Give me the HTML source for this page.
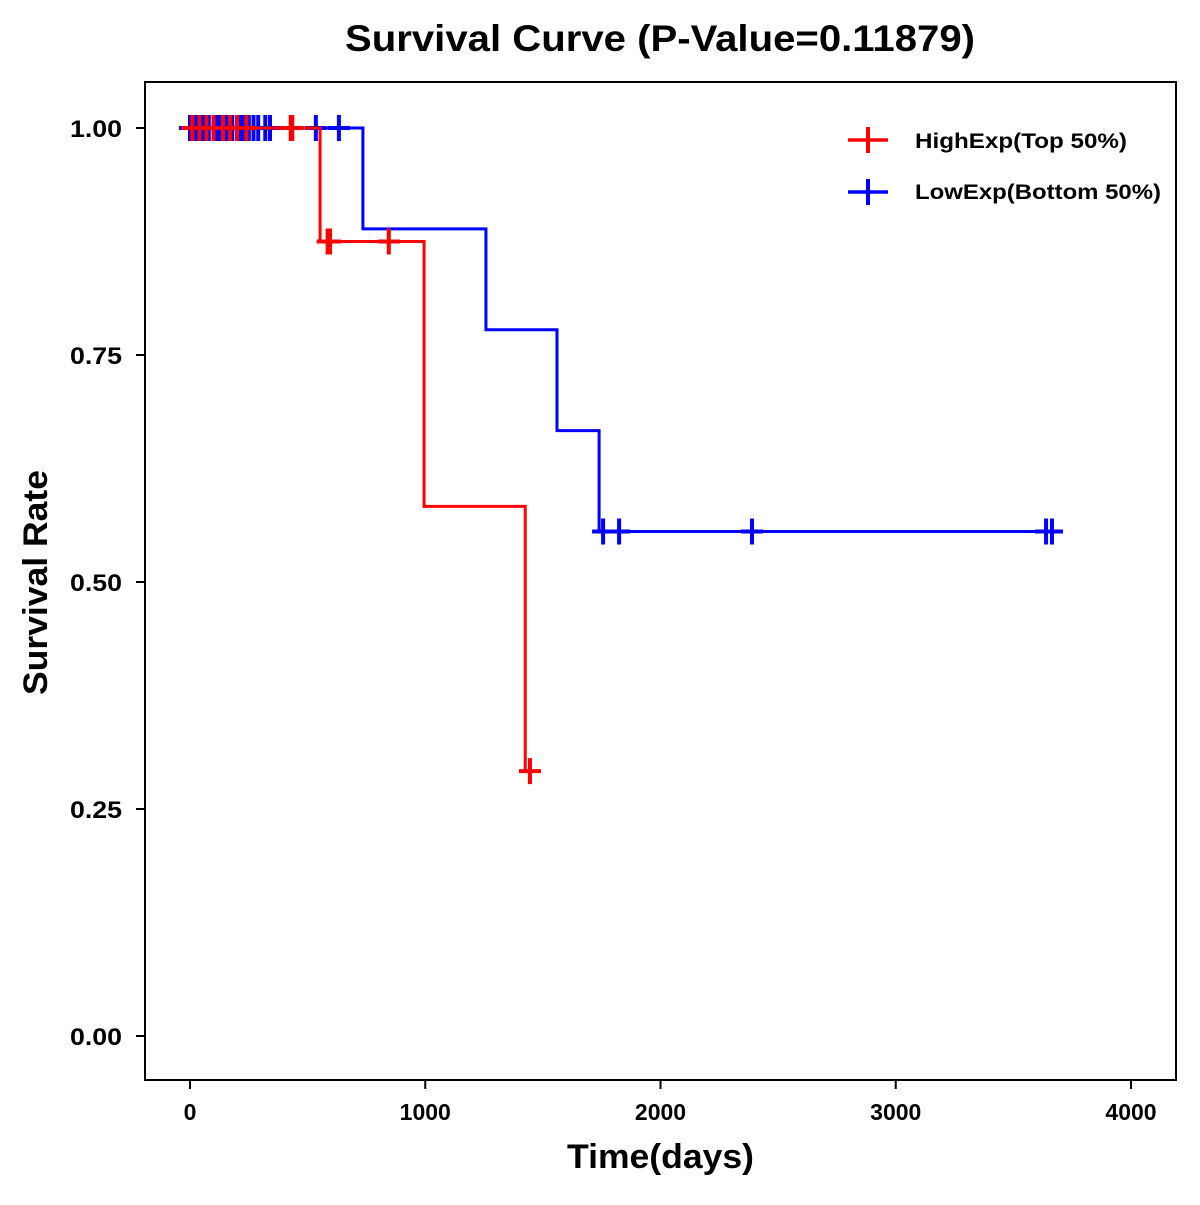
<!DOCTYPE html>
<html><head><meta charset="utf-8"><style>
html,body{margin:0;padding:0;background:#fff;}
svg text{font-family:"Liberation Sans",Arial,sans-serif;font-weight:bold;fill:#000;}
</style></head><body>
<svg id="chart" width="1200" height="1200" viewBox="0 0 1200 1200" xmlns="http://www.w3.org/2000/svg">
<rect width="1200" height="1200" fill="#fff"/>
<text x="345" y="51" font-size="37" textLength="630" lengthAdjust="spacingAndGlyphs">Survival Curve (P-Value=0.11879)</text>
<rect x="145" y="82" width="1031" height="998" fill="none" stroke="#000" stroke-width="2"/>
<g id="axes"></g>
<g id="series"></g>
<text x="567" y="1168" font-size="34" textLength="187" lengthAdjust="spacingAndGlyphs">Time(days)</text>
<text x="0" y="0" font-size="34" textLength="225" lengthAdjust="spacingAndGlyphs" transform="translate(47 695) rotate(-90)">Survival Rate</text>
<g>
<g>
<line x1="848" y1="140" x2="888" y2="140" stroke="#f00" stroke-width="3.5"/>
<line x1="868" y1="127" x2="868" y2="153" stroke="#f00" stroke-width="4"/>
<text x="915" y="148" font-size="21" textLength="212" lengthAdjust="spacingAndGlyphs">HighExp(Top 50%)</text>
</g>
<g>
<line x1="848" y1="192" x2="888" y2="192" stroke="#00f" stroke-width="3.5"/>
<line x1="868" y1="179" x2="868" y2="205" stroke="#00f" stroke-width="4"/>
<text x="915" y="199" font-size="21" textLength="246" lengthAdjust="spacingAndGlyphs">LowExp(Bottom 50%)</text>
</g>
</g>
</svg>
<script>
const xTicks=[0,1000,2000,3000,4000];
const yTicks=[0,0.25,0.5,0.75,1.0];
const yTickLabels=["0.00","0.25","0.50","0.75","1.00"];
const highEventTimes=[553,995,1425];
const highLevels=[0.875,0.5833,0.2917];
const highEnd=1445;
const highCensorTimes=[10,40,70,100,140,170,200,240,428,435,585,595,845,1445];
const lowEventTimes=[735,1258,1560,1739];
const lowLevels=[0.8889,0.7778,0.6667,0.5556];
const lowEnd=3664;
const lowCensorTimes=[0,10,20,35,50,65,80,100,115,130,150,165,180,200,215,230,250,270,290,320,340,535,633,1756,1824,2389,3639,3664];

const NS="http://www.w3.org/2000/svg";
function X(t){return 190+t*0.23525;}
function Y(s){return 1036-s*908;}
function mk(tag,attrs,parent){const e=document.createElementNS(NS,tag);for(const k in attrs)e.setAttribute(k,attrs[k]);parent.appendChild(e);return e;}
const axes=document.getElementById('axes');
xTicks.forEach(t=>{
  const l=mk('line',{x1:X(t),x2:X(t),y1:1080,y2:1089,stroke:'#000','stroke-width':2},axes);
  
  
  const tx=mk('text',{x:X(t),y:1120,'font-size':23,'text-anchor':'middle'},axes);
  tx.textContent=t;
  
  
});
yTicks.forEach((v,i)=>{
  const l=mk('line',{x1:136,x2:145,y1:Y(v),y2:Y(v),stroke:'#000','stroke-width':2},axes);
  
  
  const tx=mk('text',{x:122,y:Y(v)+9,'font-size':24,'text-anchor':'end',textLength:52,lengthAdjust:'spacingAndGlyphs'},axes);
  tx.textContent=yTickLabels[i];
  
  
});
const series=document.getElementById('series');
function level(times,levels,t){let s=1;for(let i=0;i<times.length;i++)if(t>=times[i])s=levels[i];return s;}
function draw(times,levels,end,cens,color,name){
  let d='M'+X(0)+','+Y(1);
  times.forEach((t,i)=>{d+=' H'+X(t)+' V'+Y(levels[i]);});
  d+=' H'+X(end);
  const p=mk('path',{d:d,fill:'none',stroke:color,'stroke-width':3},series);
  
  
  cens.forEach(t=>{
    const y=Y(level(times,levels,t));const x=X(t);
    const g=mk('path',{d:`M${x-11},${y} H${x+11} M${x},${y-13} V${y+13}`,stroke:color,'stroke-width':4,fill:'none'},series);
    
    
  });
}
draw(lowEventTimes,lowLevels,lowEnd,lowCensorTimes,'#00f','low-exp');
draw(highEventTimes,highLevels,highEnd,highCensorTimes,'#f00','high-exp');
</script>
</body></html>
